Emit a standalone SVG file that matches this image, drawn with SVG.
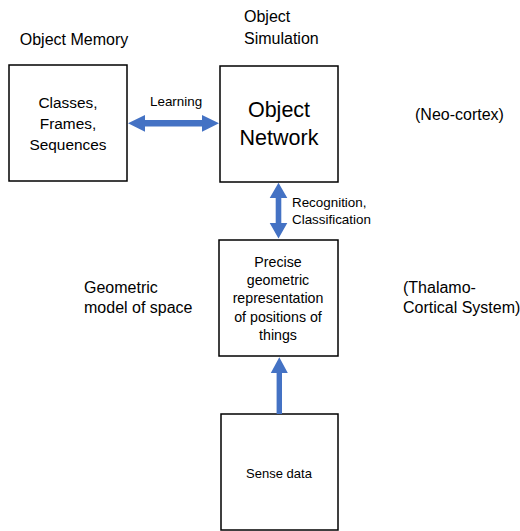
<svg xmlns="http://www.w3.org/2000/svg" width="520" height="531" viewBox="0 0 520 531">
<style>
  .box { fill: #fff; stroke: #000; stroke-width: 1.5; }
  .t { font-family: "Liberation Sans", Arial, sans-serif; fill: #000; }
  .lbl { font-size: 16px; }
  .sm { font-size: 13.4px; }
  .mid { text-anchor: middle; }
  .arrow { fill: #4472C4; }
</style>
<rect width="520" height="531" fill="#fff"/>

<g id="labels">
  <text class="t lbl mid" x="74" y="45">Object Memory</text>
  <text class="t lbl" x="244" y="22">Object</text>
  <text class="t lbl" x="244" y="44">Simulation</text>
  <text class="t lbl" x="415" y="120">(Neo-cortex)</text>
  <text class="t lbl" x="84" y="293">Geometric</text>
  <text class="t lbl" x="84" y="313">model of space</text>
  <text class="t lbl" x="403" y="293">(Thalamo-</text>
  <text class="t lbl" x="403" y="313">Cortical System)</text>
</g>

<g id="node-memory">
  <rect class="box" x="9" y="65" width="118" height="116"/>
  <text class="t mid" style="font-size:15.4px" x="68" y="108">Classes,</text>
  <text class="t mid" style="font-size:15.4px" x="68" y="129">Frames,</text>
  <text class="t mid" style="font-size:15.4px" x="68" y="150">Sequences</text>
</g>

<g id="node-network">
  <rect class="box" x="220" y="66" width="118" height="116"/>
  <text class="t mid" style="font-size:21.5px" x="279" y="117">Object</text>
  <text class="t mid" style="font-size:21.5px" x="279" y="145">Network</text>
</g>

<g id="node-geometric">
  <rect class="box" x="219" y="240" width="119" height="116"/>
  <text class="t mid" style="font-size:14.2px" x="278" y="267">Precise</text>
  <text class="t mid" style="font-size:14.2px" x="278" y="285">geometric</text>
  <text class="t mid" style="font-size:14.2px" x="278" y="303">representation</text>
  <text class="t mid" style="font-size:14.2px" x="278" y="322">of positions of</text>
  <text class="t mid" style="font-size:14.2px" x="278" y="340">things</text>
</g>

<g id="node-sense">
  <rect class="box" x="221" y="414" width="117" height="116"/>
  <text class="t mid" style="font-size:13px" x="279" y="478">Sense data</text>
</g>

<g id="connectors">
  <polygon class="arrow" points="128,123.3 145,115 145,120 202,120 202,115 219,123.3 202,131.7 202,126.6 145,126.6 145,131.7"/>
  <text class="t sm" x="150" y="106">Learning</text>

  <polygon class="arrow" points="278.5,182.7 287.3,198 281.3,198 281.3,223 287.3,223 278.5,238.5 269.7,223 275.7,223 275.7,198 269.7,198"/>
  <text class="t sm" x="292" y="207">Recognition,</text>
  <text class="t sm" x="292" y="224">Classification</text>

  <polygon class="arrow" points="279.3,357.3 287.8,373 282,373 282,414 276.6,414 276.6,373 270.8,373"/>
</g>
</svg>
